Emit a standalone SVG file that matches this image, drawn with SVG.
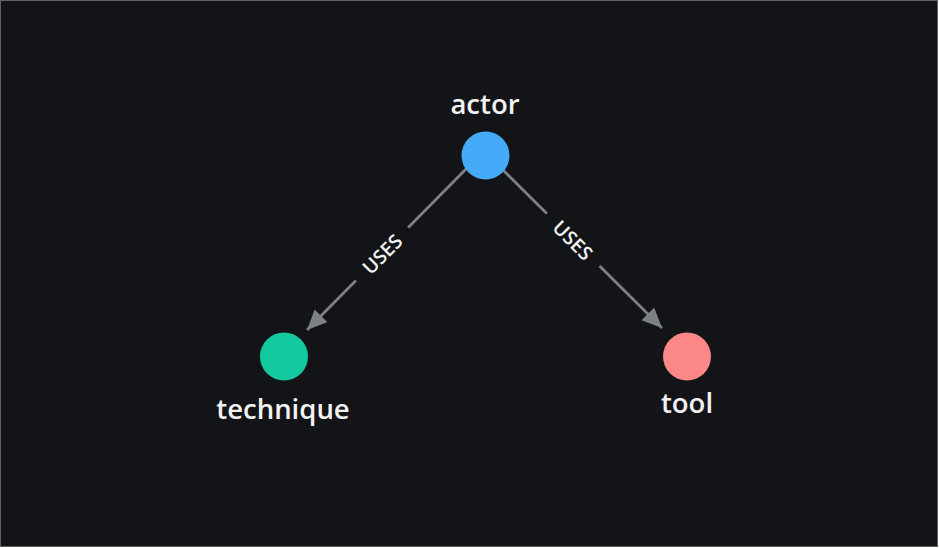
<svg xmlns="http://www.w3.org/2000/svg" width="939" height="548" viewBox="0 0 939 548">
  <defs>
    <marker id="arrow" markerUnits="userSpaceOnUse" markerWidth="22" markerHeight="20" refX="20" refY="9" orient="auto">
      <path d="M0,0 L20,9 L0,18 z" fill="#7d8084"/>
    </marker>
    <style>
      .edge { stroke: #7d8084; stroke-width: 2.8; fill: none; }
      .elabel-bg { fill: #121417; }
      .elabel { font-family: "Open Sans", "Noto Sans", sans-serif; font-weight: 600; font-size: 19.5px; fill: #f2f2f2; text-anchor: middle; dominant-baseline: central; }
      .nlabel { font-family: "Open Sans", "Noto Sans", sans-serif; font-weight: 600; font-size: 27.5px; fill: #f2f2f2; text-anchor: middle; }
    </style>
  </defs>
  <rect x="0.5" y="0.5" width="937" height="546" fill="#121417" stroke="#5f6268" stroke-width="1"/>
  <g id="connectors">
    <g id="edge-actor-technique">
      <path class="edge" d="M468,167 L307,330" marker-end="url(#arrow)"/>
      <g transform="translate(382,254) rotate(-45)">
        <rect class="elabel-bg" x="-37" y="-12" width="74" height="24"/>
        <text class="elabel" x="0" y="0">USES</text>
      </g>
    </g>
    <g id="edge-actor-tool">
      <path class="edge" d="M502,169 L662,328" marker-end="url(#arrow)"/>
      <g transform="translate(573,240) rotate(45)">
        <rect class="elabel-bg" x="-37" y="-12" width="74" height="24"/>
        <text class="elabel" x="0" y="0">USES</text>
      </g>
    </g>
  </g>
  <g id="actor">
    <circle cx="485.5" cy="155.5" r="24" fill="#45aaf8"/>
    <text class="nlabel" x="485" y="114">actor</text>
  </g>
  <g id="technique">
    <circle cx="284" cy="356.5" r="24" fill="#12c9a0"/>
    <text class="nlabel" x="283" y="419">technique</text>
  </g>
  <g id="tool">
    <circle cx="687" cy="356.5" r="24" fill="#fc8787"/>
    <text class="nlabel" x="687" y="413">tool</text>
  </g>
</svg>
